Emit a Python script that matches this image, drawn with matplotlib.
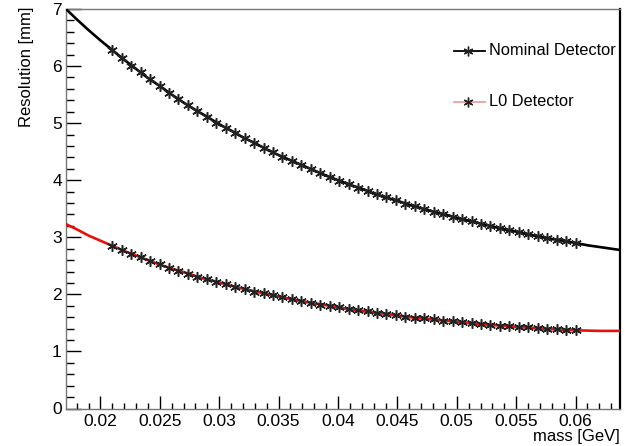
import numpy as np
import matplotlib
matplotlib.use('Agg')
import matplotlib.pyplot as plt
from matplotlib.ticker import MultipleLocator
from matplotlib.lines import Line2D

plt.rcParams['font.family'] = ['Liberation Sans', 'DejaVu Sans']

# measured points (50 mass values, 0.021 .. 0.060 GeV)
mass = np.linspace(0.021, 0.060, 50)
nominal = [6.28, 6.14, 6.01, 5.89, 5.77, 5.65, 5.53, 5.42, 5.32, 5.21,
           5.11, 5.01, 4.92, 4.83, 4.74, 4.65, 4.57, 4.49, 4.41, 4.34,
           4.26, 4.19, 4.12, 4.06, 3.99, 3.93, 3.87, 3.81, 3.75, 3.70,
           3.65, 3.59, 3.54, 3.50, 3.45, 3.40, 3.36, 3.32, 3.28, 3.24,
           3.20, 3.16, 3.12, 3.09, 3.05, 3.02, 2.99, 2.96, 2.93, 2.90]
l0 = [2.85, 2.78, 2.71, 2.65, 2.58, 2.53, 2.47, 2.41, 2.36, 2.31,
      2.27, 2.22, 2.18, 2.13, 2.09, 2.05, 2.02, 1.98, 1.95, 1.91,
      1.88, 1.85, 1.82, 1.80, 1.77, 1.74, 1.72, 1.70, 1.67, 1.65,
      1.63, 1.61, 1.59, 1.58, 1.56, 1.54, 1.53, 1.51, 1.50, 1.48,
      1.47, 1.45, 1.44, 1.43, 1.42, 1.41, 1.40, 1.39, 1.38, 1.37]

# fit curves, read every 1 MeV from 0.017 to 0.064 GeV
fit_mass = np.arange(17, 65) / 1000.0
fit_nominal = [7.02, 6.82, 6.63, 6.45, 6.28, 6.11, 5.95, 5.79, 5.65, 5.50,
               5.36, 5.23, 5.11, 4.98, 4.87, 4.75, 4.65, 4.54, 4.44, 4.35,
               4.26, 4.17, 4.08, 4.00, 3.92, 3.85, 3.77, 3.70, 3.64, 3.57,
               3.51, 3.45, 3.40, 3.34, 3.29, 3.24, 3.19, 3.14, 3.10, 3.05,
               3.01, 2.97, 2.94, 2.90, 2.86, 2.83, 2.80, 2.77]
fit_l0 = [3.24, 3.14, 3.03, 2.94, 2.85, 2.76, 2.68, 2.60, 2.52, 2.45,
          2.39, 2.32, 2.26, 2.21, 2.15, 2.10, 2.05, 2.01, 1.96, 1.92,
          1.88, 1.84, 1.81, 1.77, 1.74, 1.71, 1.68, 1.66, 1.63, 1.60,
          1.58, 1.56, 1.54, 1.52, 1.50, 1.48, 1.46, 1.45, 1.43, 1.42,
          1.40, 1.39, 1.38, 1.37, 1.365, 1.36, 1.36, 1.36]

W, H = 625, 446
fig = plt.figure(figsize=(W / 100, H / 100), dpi=100)
ax = fig.add_axes([66 / W, 1 - 408.5 / H, (619.5 - 66) / W, (408.5 - 9) / H])

star = (6, 2, 0)
ax.plot(fit_mass, fit_nominal, color='black', lw=1.9, zorder=3)
ax.plot(fit_mass, fit_l0, color='#e8100c', lw=1.9, zorder=3)
ax.plot(mass, nominal, ls='none', marker=star, ms=7.5, mew=1.1, color='#222222', zorder=4)
ax.plot(mass, l0, ls='none', marker=star, ms=7.5, mew=1.1, color='#222222', zorder=4)

ax.set_xlim(0.0171, 0.0637)
ax.set_ylim(0, 7)

ax.xaxis.set_major_locator(MultipleLocator(0.005))
ax.xaxis.set_minor_locator(MultipleLocator(0.001))
ax.yaxis.set_major_locator(MultipleLocator(1))
ax.yaxis.set_minor_locator(MultipleLocator(0.2))
ax.xaxis.set_major_formatter(plt.FuncFormatter(lambda v, p: ('%.3f' % v).rstrip('0')))
ax.tick_params(which='both', direction='in', labelsize=12.5, color='black', width=1)
ax.tick_params(axis='x', which='major', length=9.5, pad=4)
ax.tick_params(axis='x', which='minor', length=4.5)
ax.tick_params(axis='y', which='major', length=11, pad=3)
ax.tick_params(axis='y', which='minor', length=5.5)
ax.tick_params(top=False, right=False)

for side in ['left', 'bottom', 'top']:
    ax.spines[side].set_color('#777777')
    ax.spines[side].set_linewidth(1)
ax.spines['right'].set_color('black')
ax.spines['right'].set_linewidth(1.6)

fig.text(26 / W, 1 - 7 / H, 'Resolution [mm]', rotation=90, ha='center', va='top', fontsize=12)
fig.text(620 / W, 1 - 436 / H, 'mass [GeV]', ha='right', va='center', fontsize=12)

# legend drawn by hand
for y_px, lc, label in [(50.7, 'black', 'Nominal Detector'), (101.7, '#eda0a0', 'L0 Detector')]:
    yf = 1 - y_px / H
    fig.add_artist(Line2D([454 / W, 485 / W], [yf, yf], color=lc, lw=1.3, transform=fig.transFigure))
    fig.add_artist(Line2D([468 / W], [yf], ls='none', marker=star, ms=7, mew=1.0,
                          color='#222222', transform=fig.transFigure))
    fig.text(489 / W, yf, label, ha='left', va='center', fontsize=11.8)

fig.savefig('out.png', dpi=100)
